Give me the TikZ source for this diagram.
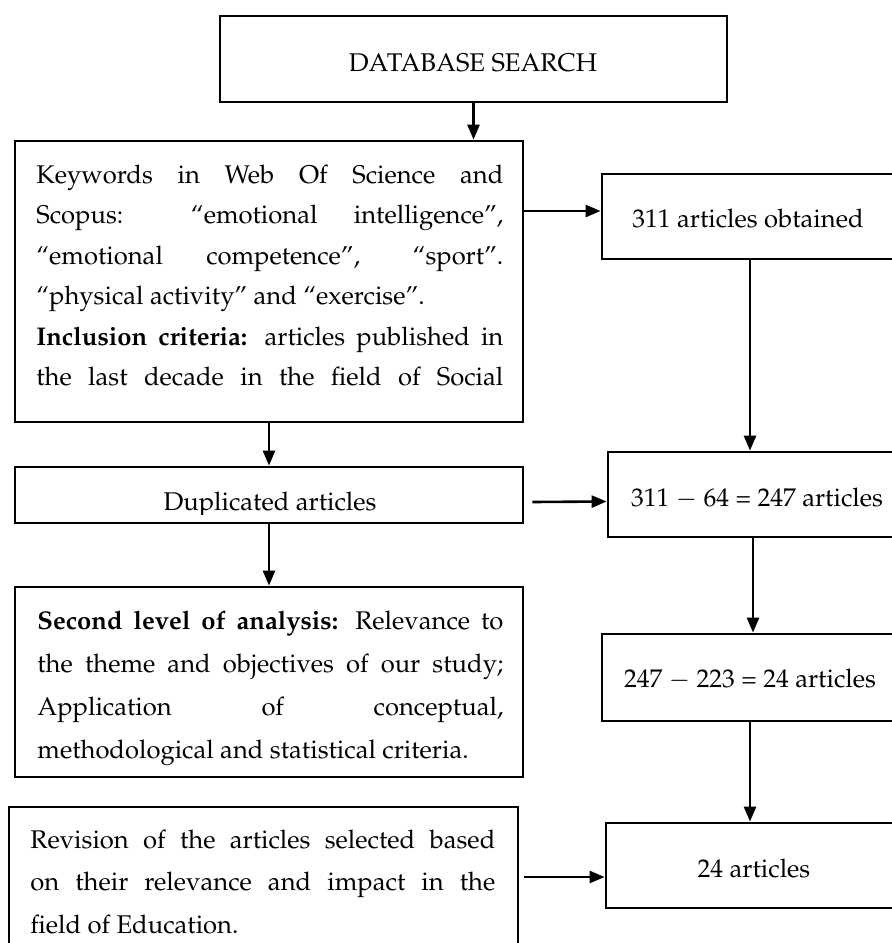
\documentclass[tikz,border=0pt]{standalone}
\usepackage[T1]{fontenc}
\usepackage{mathpazo}
\usetikzlibrary{arrows.meta,fit}

\tikzset{
  box/.style={draw, line width=1.4pt, inner sep=0pt},
  txt/.style={inner sep=0pt, font=\fontsize{12.8}{20}\selectfont},
  arr/.style={line width=1.3pt, -{Triangle[length=7.5pt,width=6pt]}},
}

\begin{document}
\begin{tikzpicture}[x=0.5pt,y=-0.5pt]
\clip (0,0) rectangle (892,943);

% left column
\node[box, fit={(220,16) (727,102)}] (db) {};
\node[box, fit={(15,141) (523,422)}] (kw) {};
\node[box, fit={(15,467) (523,523)}] (dup) {};
\node[box, fit={(15,587) (523,777)}] (sec) {};
\node[box, fit={(9,807) (518,960)}] (rev) {};

% right column
\node[box, fit={(602,174) (898,259)}] (r1) {};
\node[box, fit={(608,452) (898,537)}] (r2) {};
\node[box, fit={(602,634) (898,721)}] (r3) {};
\node[box, fit={(606,823) (898,908)}] (r4) {};

% texts
\node[txt, anchor=base] (dbtext) at (473,71) {DATABASE SEARCH};

\node[txt, anchor=base west] (kwtext) at (36,183) {\parbox[t]{233.5pt}{\baselineskip=20.25pt
\makebox[\linewidth][s]{Keywords in Web Of Science and}\\
\makebox[\linewidth][s]{Scopus: ``emotional intelligence'',}\\
\makebox[\linewidth][s]{``emotional competence'', ``sport''.}\\
``physical activity'' and ``exercise''.\\
\makebox[\linewidth][s]{\textbf{Inclusion criteria:} articles published in}\\
\makebox[\linewidth][s]{the last decade in the field of Social}}};

\begin{scope}
\clip (15,467) rectangle (523,514);
\node[txt, anchor=base] (duptext) at (270,510) {Duplicated articles};
\end{scope}

\node[txt, anchor=base west] (sectext) at (37,629) {\parbox[t]{233pt}{\baselineskip=21.5pt
\makebox[\linewidth][s]{\textbf{Second level of analysis:} Relevance to}\\
\makebox[\linewidth][s]{the theme and objectives of our study;}\\
\makebox[\linewidth][s]{Application of conceptual,}\\
methodological and statistical criteria.}};

\node[txt, anchor=base west] (revtext) at (30,848) {\parbox[t]{232.5pt}{\baselineskip=21.25pt
\makebox[\linewidth][s]{Revision of the articles selected based}\\
\makebox[\linewidth][s]{on their relevance and impact in the}\\
field of Education.}};

\node[txt, anchor=base] (r1text) at (748,227) {311 articles obtained};
\node[txt, anchor=base] (r2text) at (757,506) {311 $-$ 64 = 247 articles};
\node[txt, anchor=base] (r3text) at (750,687) {247 $-$ 223 = 24 articles};
\node[txt, anchor=base] (r4text) at (754,877) {24 articles};

% arrows
\draw[arr] (db.south) -- (db.south |- kw.north);
\draw[arr] (kw.south) -- (dup.north);
\draw[arr] (dup.south) -- (sec.north);
\draw[arr] ([yshift=2.75pt]r1.west -| kw.east) -- ([yshift=2.75pt]r1.west);
\draw[arr] ([xshift=4pt,yshift=-3.5pt]dup.east) -- ([yshift=-3.5pt]r2.west);
\draw[arr] (r1.south) -- (r1.south |- r2.north);
\draw[arr] (r2.south) -- (r2.south |- r3.north);
\draw[arr] (r3.south) -- (r3.south |- r4.north);
\draw[arr] ([xshift=2.5pt,yshift=3.25pt]rev.east) -- ([yshift=-5.75pt]r4.west);

\end{tikzpicture}
\end{document}
